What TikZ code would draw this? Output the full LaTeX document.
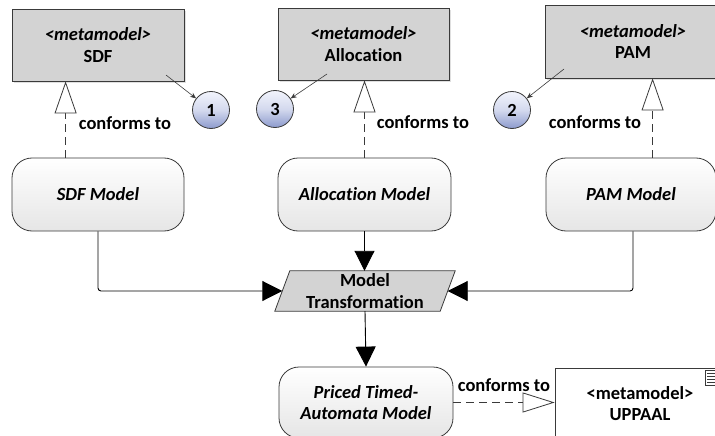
\documentclass[tikz,border=0pt]{standalone}
\usepackage{fontspec}
\setmainfont{Carlito}[Ligatures={NoCommon}]
\usetikzlibrary{arrows.meta,calc,shadows}
\definecolor{edge}{HTML}{3A3A3A}
\definecolor{metafill}{HTML}{D3D3D3}
\definecolor{circtop}{RGB}{242,244,252}
\definecolor{circbot}{RGB}{140,154,205}
\tikzset{
  txt/.style={font=\fontsize{18.5}{21.5}\selectfont\bfseries, align=center, inner sep=0pt},
  metabox/.style={txt, draw=edge, line width=0.8pt, fill=metafill, rectangle,
    drop shadow={opacity=0.25, shadow xshift=2pt, shadow yshift=-2pt}},
  modelbox/.style={txt, draw=edge, line width=0.8pt, rounded corners=20pt, rectangle,
    top color=white, bottom color=black!10, font=\fontsize{18.5}{21.5}\selectfont\bfseries\itshape},
  numcirc/.style={txt, circle, draw=edge, line width=0.8pt, minimum size=37pt,
    top color=circtop, bottom color=circbot, middle color=circtop!70!circbot},
  conform/.style={draw=edge, line width=0.8pt, dash pattern=on 8pt off 5pt,
    -{Triangle[length=32pt,width=22pt,fill=white]}},
  flow/.style={draw=black, line width=0.9pt, rounded corners=3pt,
    -{Triangle[length=20pt,width=20pt]}},
  pointer/.style={draw=edge, line width=0.6pt, -{Stealth[length=6pt,width=5pt]}},
  lbl/.style={txt}
}
\begin{document}
\begin{tikzpicture}[x=1pt,y=-1pt]
\useasboundingbox (0,0) rectangle (715,436);
\clip (0,0) rectangle (715,436);

% metamodel boxes
\node[metabox, minimum width=172pt, minimum height=72pt] (mSDF) at (98,45)
  {\textit{<metamodel>}\\SDF};
\node[metabox, minimum width=171pt, minimum height=72pt] (mAlloc) at (363.5,44)
  {\textit{<metamodel>}\\Allocation};
\node[metabox, minimum width=176pt, minimum height=73pt] (mPAM) at (633,41.5)
  {\textit{<metamodel>}\\PAM};

% numbered circles
\node[numcirc] (c1) at (211,110) {1};
\node[numcirc] (c3) at (275,109) {3};
\node[numcirc] (c2) at (512,110) {2};
\coordinate (a1) at (166,75);
\coordinate (a3) at (327,74);
\coordinate (a2) at (564,69);
\draw[pointer] (a1) -- (c1);
\draw[pointer] (a3) -- (c3);
\draw[pointer] (a2) -- (c2);

% model boxes
\node[modelbox, minimum width=172pt, minimum height=73pt] (SDFm) at (98,194.5) {SDF Model};
\node[modelbox, minimum width=173pt, minimum height=73pt] (Allocm) at (364.5,194.5) {Allocation Model};
\node[modelbox, minimum width=170pt, minimum height=73pt] (PAMm) at (631,194.5) {PAM Model};

% conforms-to links (top)
\coordinate (sdfbot) at ($(SDFm.north west)+(54,0)$);
\coordinate (paml) at ($(PAMm.north west)+(107,0)$);
\draw[conform] (sdfbot) -- (sdfbot |- mSDF.south);
\draw[conform] (Allocm.north) -- (Allocm.north |- mAlloc.south);
\draw[conform] (paml) -- (paml |- mPAM.south);
\node[lbl] (l1) at (125,123) {conforms to};
\node[lbl] (l2) at (423,122) {conforms to};
\node[lbl] (l3) at (595,122) {conforms to};

% model transformation (parallelogram)
\node[txt, minimum width=165pt, minimum height=40pt] (mt) at (365,291) {};
\draw[edge, line width=0.8pt, fill=metafill] ($(mt.north west)+(7.5,0)$) -- ($(mt.north east)+(7.5,0)$)
  -- ($(mt.south east)+(-7.5,0)$) -- ($(mt.south west)+(-7.5,0)$) -- cycle;
\node[txt] (mtlabel) at (mt) {Model\\Transformation};

% flows
\draw[flow] (SDFm.south) |- (mt.west);
\draw[flow] (Allocm.south) -- (Allocm.south |- mt.north);
\coordinate (pamout) at ($(PAMm.south)+(2,0)$);
\draw[flow] (pamout) |- (mt.east);

% bottom row
\node[modelbox, minimum width=174pt, minimum height=71pt] (pta) at (366,402.5)
  {Priced Timed-\\Automata Model};
\node[txt, draw=edge, line width=0.8pt, fill=white, minimum width=170pt, minimum height=71pt,
  text width=170pt] (upp) at (640,403.5) {<metamodel>\\UPPAAL};
\draw[flow, rounded corners=0pt] (mt.south) -- (pta.north);
\draw[conform, -{Triangle[length=32pt,width=20pt,fill=white]}] (pta.east) -- (pta.east -| upp.west);
\node[lbl] (l4) at (504,385) {conforms to};

% document icon
\draw[edge, line width=0.5pt, fill=white] (705,370) rectangle (719,385);
\foreach \yy in {373,376,379,382}
  \draw[edge, line width=0.4pt] (707,\yy) -- (717,\yy);
\end{tikzpicture}
\end{document}
